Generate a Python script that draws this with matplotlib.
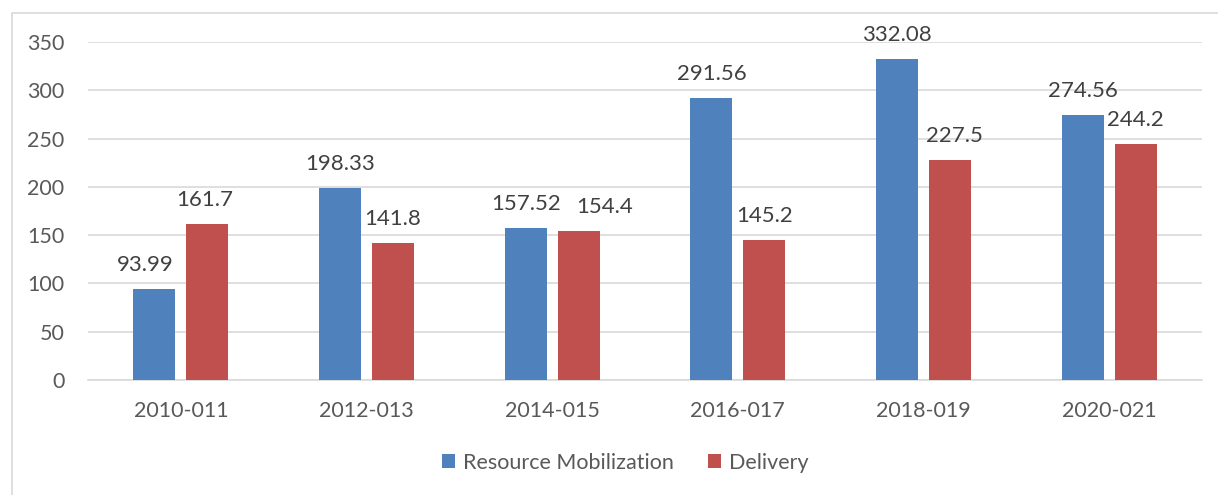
import numpy as np
import matplotlib.pyplot as plt
from matplotlib.patches import Rectangle

# ==========================
# DATA
# ==========================
periods = ["2010-011", "2012-013", "2014-015", "2016-017", "2018-019", "2020-021"]
resource_mobilization = [93.99, 198.33, 157.52, 291.56, 332.08, 274.56]
delivery = [161.7, 141.8, 154.4, 145.2, 227.5, 244.2]
value_labels_rm = ["93.99", "198.33", "157.52", "291.56", "332.08", "274.56"]
value_labels_del = ["161.7", "141.8", "154.4", "145.2", "227.5", "244.2"]

# ==========================
# STYLE
# ==========================
plt.rcParams['font.family'] = ['Lato', 'DejaVu Sans']
BLUE = "#4F81BD"
RED = "#C0504D"
GRID = "#D9D9D9"
TICK_COLOR = "#595959"
LABEL_COLOR = "#404040"

# a few labels were nudged sideways in the original (in points)
nudge_rm = [-6.5, 0, 0, 0, 0, 0]
nudge_del = [-2, 0, 19, 0, 3, 0]

fig = plt.figure(figsize=(12.18, 4.95), dpi=100)
ax = fig.add_axes([88 / 1218, 1 - 380 / 495, (1202 - 88) / 1218, (380 - 42) / 495])

# outer chart frame (partly cropped in the reference)
fig.patches.append(Rectangle((12 / 1218, -0.05), 1.2, 1 - 13 / 495 + 0.05,
                             transform=fig.transFigure, fill=False,
                             edgecolor=GRID, linewidth=1.2))

x = np.arange(len(periods))
w = 0.226
off = 0.142

b1 = ax.bar(x - off, resource_mobilization, w, color=BLUE, label="Resource Mobilization", zorder=3)
b2 = ax.bar(x + off, delivery, w, color=RED, label="Delivery", zorder=3)

for bars, labels, nudges in [(b1, value_labels_rm, nudge_rm), (b2, value_labels_del, nudge_del)]:
    for rect, lab, dx in zip(bars, labels, nudges):
        ax.annotate(lab, (rect.get_x() + rect.get_width() / 2, rect.get_height()),
                    xytext=(dx, 13), textcoords="offset points",
                    ha="center", va="baseline", fontsize=16, color=LABEL_COLOR, zorder=4)

ax.set_xlim(-0.5, len(periods) - 0.5)
ax.set_ylim(0, 350)
ax.set_yticks(np.arange(0, 351, 50))
ax.set_xticks(x)
ax.set_xticklabels(periods)

ax.yaxis.grid(True, color=GRID, linewidth=1.2, zorder=0)
ax.set_axisbelow(True)
for s in ["top", "right", "left"]:
    ax.spines[s].set_visible(False)
ax.spines["bottom"].set_color(GRID)
ax.spines["bottom"].set_linewidth(1.2)
ax.tick_params(axis="both", length=0, labelsize=15.5, colors=TICK_COLOR)
ax.tick_params(axis="x", pad=15)
ax.tick_params(axis="y", pad=17)

fig.legend(loc="center", bbox_to_anchor=(625 / 1218, 1 - 463 / 495), ncol=2,
           frameon=False, fontsize=15.5, labelcolor=TICK_COLOR,
           handlelength=0.62, handleheight=0.62, handletextpad=0.35, columnspacing=1.6)

fig.savefig("out.png", dpi=100)
